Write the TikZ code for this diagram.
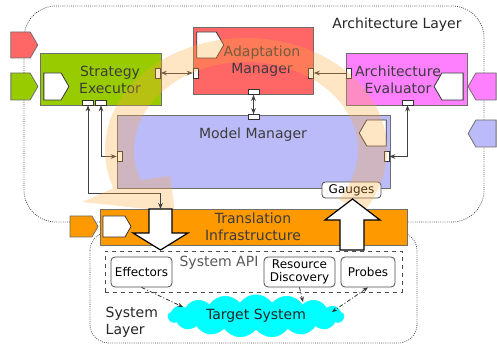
\documentclass[tikz,border=0pt]{standalone}
\usepackage{fontspec}
\setmainfont{DejaVu Sans}
\usetikzlibrary{shapes.symbols,arrows.meta}

\definecolor{segreen}{RGB}{153,204,0}
\definecolor{amred}{RGB}{255,102,102}
\definecolor{aemagenta}{RGB}{255,128,255}
\definecolor{mmblue}{RGB}{187,187,250}
\definecolor{tiorange}{RGB}{255,153,0}
\definecolor{loopband}{RGB}{252,170,60}
\definecolor{tscyan}{RGB}{0,255,255}
\definecolor{edgegray}{RGB}{110,110,110}
\definecolor{labelgray}{RGB}{60,60,60}

\tikzset{
  box/.style={draw=edgegray, line width=0.6pt, inner sep=0pt},
  inset/.style={signal, draw=black!80, fill=white, line width=0.6pt, signal pointer angle=120, inner sep=0pt},
  tab/.style={signal, draw=edgegray, line width=0.6pt, signal pointer angle=120, inner sep=0pt},
  portv/.style={draw=black!80, fill=white, line width=0.5pt, minimum width=3.75pt, minimum height=7.5pt, inner sep=0pt},
  porth/.style={draw=black!80, fill=white, line width=0.5pt, minimum width=8.25pt, minimum height=3.75pt, inner sep=0pt},
  lbl/.style={text=labelgray, align=center, font=\fontsize{10.5}{12.5}\selectfont},
  apibox/.style={draw=black!70, rounded corners=3pt, fill=white, line width=0.6pt, align=center, inner sep=0pt, font=\fontsize{9}{10}\selectfont},
  link/.style={draw=black!75, line width=0.6pt, >={Stealth[length=4.5pt,width=3.5pt]}},
  sense/.style={draw=black!80, line width=0.6pt, dash pattern={on 3pt off 1.5pt on 0.8pt off 1.5pt}, >={Stealth[length=4pt,width=3pt]}},
  layerline/.style={draw=black!75, densely dotted, line width=0.6pt},
  bigarrow/.style={draw=black, fill=white, line width=0.9pt, line join=miter},
}

\begin{document}
\begin{tikzpicture}[x=0.75pt,y=0.75pt,yscale=-1,xscale=1]
\useasboundingbox (0,0) rectangle (497,345);

% layer outlines
\draw[layerline, rounded corners=24pt] (24,6) rectangle (484,222);
\draw[layerline, rounded corners=14pt] (90,232) rectangle (417,343);
\node[lbl, text=black!85] (archlayer) at (397,25) {Architecture Layer};
\node[lbl, text=black!85, align=left, anchor=west] (syslayer) at (101,322) {System\\Layer};

% outer tabs
\node[tab, fill=amred, minimum width=20.25pt, minimum height=19.5pt] (tabam) at (20.5,45) {};
\node[tab, fill=segreen, minimum width=20.25pt, minimum height=20.25pt] (tabse) at (20.5,86.5) {};
\node[tab, fill=aemagenta, signal to=west, minimum width=21pt, minimum height=20.25pt] (tabae) at (486,86.5) {};
\node[tab, fill=mmblue, signal to=west, minimum width=21pt, minimum height=20.25pt] (tabmm) at (486,133.5) {};

% architecture layer boxes
\node[box, fill=segreen, minimum width=90.75pt, minimum height=39pt] (se) at (100.5,79) {};
\node[inset, minimum width=18.75pt, minimum height=20.25pt] (sein) at (52.5,86.5) {};
\node[lbl] (setext) at (110,80) {Strategy\\Executor};

\node[box, fill=amred, minimum width=90pt, minimum height=50.25pt] (am) at (253,60.5) {};
\node[inset, minimum width=20.25pt, minimum height=19.5pt] (amin) at (206.5,45) {};
\node[lbl] (amtext) at (262,61) {Adaptation\\Manager};

\node[box, fill=aemagenta, minimum width=90.75pt, minimum height=39pt] (ae) at (406.5,79) {};
\node[inset, signal to=west, minimum width=21.75pt, minimum height=20.25pt] (aein) at (452.5,86.5) {};
\node[lbl] (aetext) at (398,80) {Architecture\\Evaluator};

\node[box, fill=mmblue, minimum width=204.75pt, minimum height=54.75pt] (mm) at (253.5,151.5) {};
\node[inset, signal to=west, minimum width=20.25pt, minimum height=19.5pt] (mmin) at (376.5,133) {};
\node[lbl] (mmtext) at (253,135) {Model Manager};

% ports
\node[portv] (se-right) at (158,73) {};
\node[portv] (am-left) at (195.5,73) {};
\node[portv] (am-right) at (311,73) {};
\node[portv] (ae-left) at (348.5,73) {};
\node[porth] (am-bottom) at (253.5,92) {};
\node[porth] (mm-top) at (253.5,117) {};
\node[porth] (se-bottom1) at (88,102.5) {};
\node[porth] (se-bottom2) at (101,102.5) {};
\node[porth] (ae-bottom) at (407.5,102.5) {};
\node[portv] (mm-left) at (119.5,156.5) {};
\node[portv] (mm-right) at (386.5,156.5) {};

\coordinate (dturn) at (160.5,193);
\coordinate (dtop) at (160.5,209);

\draw[link,<->] (se-right) -- (am-left);
\draw[link,->] (ae-left) -- (am-right);
\draw[link,<->] (am-bottom) -- (mm-top);
\draw[link,<->] (se-bottom2) |- (mm-left);
\draw[link,<->] (ae-bottom) |- (mm-right);
\draw[link,<-] (se-bottom1) |- (dturn);

% system layer
\node[draw=black!70, dashed, line width=0.6pt, minimum width=222.75pt, minimum height=30.75pt] (sysapi) at (253.5,271.5) {};
\node[lbl, text=black!65] (apitext) at (219,263) {System API};
\node[apibox, minimum width=45.75pt, minimum height=22.5pt] (eff) at (141.5,272) {Effectors};
\node[apibox, minimum width=53.25pt, minimum height=22.5pt] (res) at (299.5,272) {Resource\\Discovery};
\node[apibox, minimum width=40.5pt, minimum height=22.5pt] (probes) at (368,272) {Probes};
\node[cloud, fill=tscyan, draw=tscyan, cloud puffs=17, cloud puff arc=110, aspect=4.8, minimum width=132pt, minimum height=25pt, inner sep=0pt, lbl, text=black!85] (target) at (256,316) {Target System};

\coordinate (teff) at (183,307);
\coordinate (tres) at (303,302);
\coordinate (tpro) at (332,312);
\draw[sense,->] (eff.south) -- (teff);
\draw[sense,->] (res.south) -- (tres);
\draw[sense,<->] (probes.south) -- (tpro);

\node[apibox, minimum width=44.25pt, minimum height=12pt, rounded corners=2.5pt] (gauges) at (351.5,190) {Gauges};

% feedback loop band
\fill[loopband, fill opacity=0.3] (362.9,212.6) arc[start angle=34, end angle=-200, x radius=141, y radius=112] -- (82,202) -- (175,212) -- (170,176) -- (140.8,180.1) arc[start angle=-200, end angle=34, x radius=112, y radius=88] -- cycle;

% translation infrastructure
\node[tab, fill=tiorange, minimum width=21pt, minimum height=15.75pt] (tabti) at (81,226.5) {};
\node[box, fill=tiorange, minimum width=230.25pt, minimum height=27pt] (ti) at (253.5,227) {};
\node[inset, minimum width=21pt, minimum height=15.75pt] (tiin) at (114,226.5) {};
\node[lbl] (titext) at (253,227) {Translation\\Infrastructure};

% big arrows
\draw[bigarrow] (149,209) -- (172,209) -- (172,233) -- (188,233) -- (160.5,250) -- (133,233) -- (149,233) -- cycle;
\draw[bigarrow] (340,250) -- (340,220) -- (325,220) -- (352.5,199) -- (380,220) -- (364,220) -- (364,250) -- cycle;

\draw[link,->] (dturn) -- (dtop);

\end{tikzpicture}
\end{document}
